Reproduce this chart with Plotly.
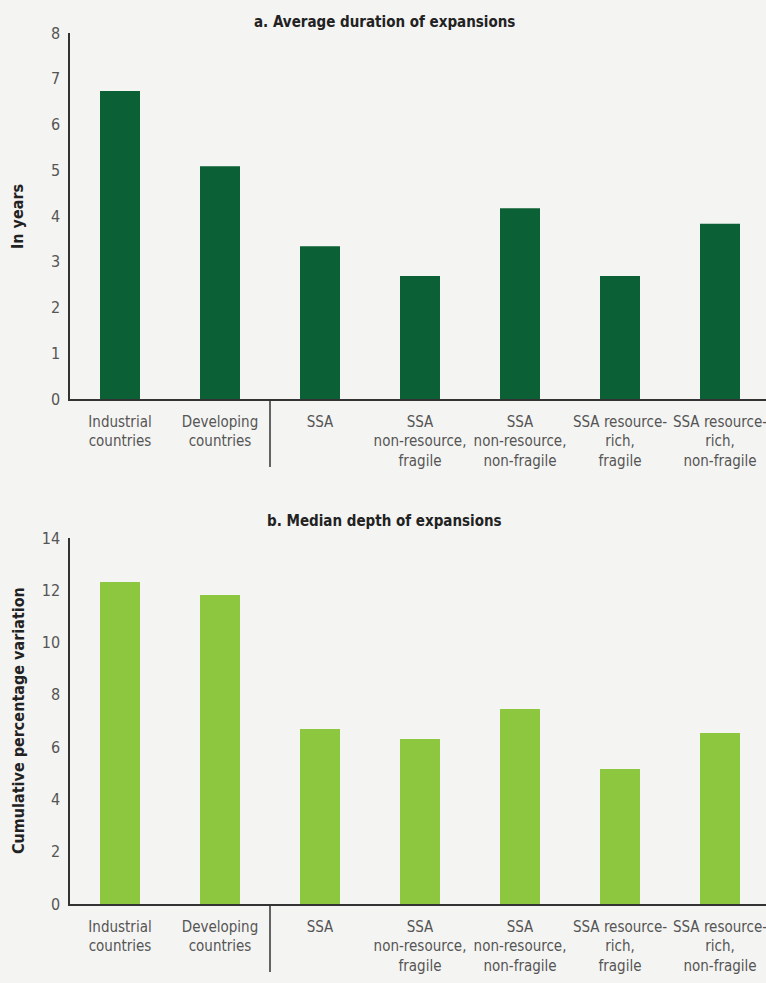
import plotly.graph_objects as go

categories = [
    "Industrial<br>countries",
    "Developing<br>countries",
    "SSA",
    "SSA<br>non-resource,<br>fragile",
    "SSA<br>non-resource,<br>non-fragile",
    "SSA resource-<br>rich,<br>fragile",
    "SSA resource-<br>rich,<br>non-fragile",
]
duration_years = [6.73, 5.09, 3.34, 2.69, 4.17, 2.69, 3.83]
depth_pct = [12.32, 11.82, 6.69, 6.31, 7.46, 5.16, 6.54]

title_a = "a. Average duration of expansions"
title_b = "b. Median depth of expansions"
ytitle_a = "In years"
ytitle_b = "Cumulative percentage variation"

FONT = "DejaVu Sans Condensed, Liberation Sans Narrow, sans-serif"
BG = "#f4f4f2"
H = 983.0

def py(px):
    return 1 - px / H

fig = go.Figure()
fig.add_trace(go.Bar(x=categories, y=duration_years, marker=dict(color="#0b6135", line=dict(width=0)),
                     width=0.4, xaxis="x", yaxis="y", hoverinfo="x+y"))
fig.add_trace(go.Bar(x=categories, y=depth_pct, marker=dict(color="#8dc63f", line=dict(width=0)),
                     width=0.4, xaxis="x2", yaxis="y2", hoverinfo="x+y"))

axis_common_x = dict(type="category", showgrid=False, zeroline=False, showline=True, automargin=False,
                     linecolor="#333333", linewidth=1.5, ticks="", range=[-0.5, 6.46], tickangle=0,
                     ticklabelstandoff=8,
                     tickfont=dict(family=FONT, size=15, color="#555555"))
axis_common_y = dict(showgrid=False, zeroline=False, showline=True, linecolor="#333333", automargin=False,
                     linewidth=1.5, ticks="", ticklabelstandoff=5,
                     tickfont=dict(family=FONT, size=16, color="#555555"))

fig.update_layout(
    template="none",
    width=766, height=983,
    margin=dict(l=70, r=0, t=0, b=0, autoexpand=False),
    paper_bgcolor=BG, plot_bgcolor=BG,
    showlegend=False,
    xaxis=dict(axis_common_x, domain=[0, 1], anchor="y"),
    yaxis=dict(axis_common_y, domain=[py(399), py(33)], range=[0, 8], dtick=1, anchor="x"),
    xaxis2=dict(axis_common_x, domain=[0, 1], anchor="y2"),
    yaxis2=dict(axis_common_y, domain=[py(904), py(538)], range=[0, 14], dtick=2, anchor="x2"),
)

# separator lines between comparison groups and SSA groups
for xr, yr in (("x", "y"), ("x2", "y2")):
    fig.add_shape(type="line", xref=xr, yref=yr + " domain", x0=1.5, x1=1.5, y0=0, y1=-0.186,
                  line=dict(color="#333333", width=1.5))

# titles
fig.add_annotation(text="<b>" + title_a + "</b>", xref="paper", yref="paper", x=(384 - 70) / 696,
                   y=py(22), showarrow=False, font=dict(family=FONT, size=15, color="#222222"),
                   xanchor="center", yanchor="middle")
fig.add_annotation(text="<b>" + title_b + "</b>", xref="paper", yref="paper", x=(384 - 70) / 696,
                   y=py(521), showarrow=False, font=dict(family=FONT, size=15, color="#222222"),
                   xanchor="center", yanchor="middle")
fig.add_annotation(text="<b>" + ytitle_a + "</b>", xref="paper", yref="paper", x=(18 - 70) / 696,
                   y=py(216), showarrow=False, textangle=-90,
                   font=dict(family=FONT, size=16, color="#222222"), xanchor="center", yanchor="middle")
fig.add_annotation(text="<b>" + ytitle_b + "</b>", xref="paper", yref="paper", x=(18 - 70) / 696,
                   y=py(721), showarrow=False, textangle=-90,
                   font=dict(family=FONT, size=16, color="#222222"), xanchor="center", yanchor="middle")

fig.write_html("out.html", config={"displayModeBar": False},
               post_script="document.body.style.margin='0';")
